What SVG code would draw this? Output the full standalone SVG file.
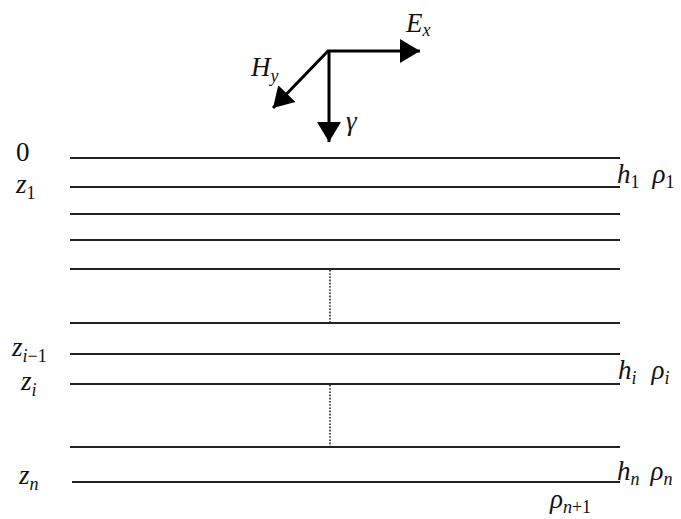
<svg xmlns="http://www.w3.org/2000/svg" width="681" height="519" viewBox="0 0 681 519">
<style>
.l{stroke:#222;stroke-width:2;fill:none}
.d{stroke:#222;stroke-width:1.6;stroke-dasharray:1.6 1.6;fill:none}
.a{stroke:#000;stroke-width:3;fill:none}
</style>
<defs>
<marker id="ah" markerUnits="userSpaceOnUse" markerWidth="26" markerHeight="26" refX="20" refY="13" orient="auto">
<path d="M0,1 L20,13 L0,25 Z" fill="#000"/>
</marker>
</defs>
<rect width="681" height="519" fill="#fff"/>
<g id="connectors">
<line class="l" x1="70" y1="158" x2="620" y2="158"/>
<line class="l" x1="70" y1="187" x2="620" y2="187"/>
<line class="l" x1="70" y1="214" x2="620" y2="214"/>
<line class="l" x1="70" y1="240" x2="620" y2="240"/>
<line class="l" x1="70" y1="269" x2="620" y2="269"/>
<line class="l" x1="70" y1="323" x2="620" y2="323"/>
<line class="l" x1="70" y1="354" x2="620" y2="354"/>
<line class="l" x1="70" y1="384" x2="620" y2="384"/>
<line class="l" x1="70" y1="447" x2="620" y2="447"/>
<line class="l" x1="72" y1="482" x2="620" y2="482"/>
<line class="d" x1="330" y1="270" x2="330" y2="323"/>
<line class="d" x1="330" y1="385" x2="330" y2="446"/>
</g>
<g id="axes" font-family="Liberation Serif, DejaVu Serif, serif" fill="#111">
<line class="a" x1="327" y1="51" x2="420" y2="51" marker-end="url(#ah)"/>
<line class="a" x1="329" y1="51" x2="329" y2="142" marker-end="url(#ah)"/>
<line class="a" x1="328" y1="51" x2="273" y2="108" marker-end="url(#ah)"/>
<text x="406" y="32" font-size="27" font-style="italic">E<tspan font-size="18" dy="4">x</tspan></text>
<text x="251" y="76" font-size="27" font-style="italic">H<tspan font-size="18" dy="6">y</tspan></text>
<text x="346" y="130" font-size="27" font-style="italic">γ</text>
</g>
<g id="left-labels" font-family="Liberation Serif, DejaVu Serif, serif" fill="#111">
<text x="16" y="161" font-size="27">0</text>
<text x="16" y="193" font-size="27" font-style="italic">z<tspan font-size="18" font-style="normal" dy="6">1</tspan></text>
<text x="12" y="356" font-size="27" font-style="italic">z<tspan font-size="18" dy="6">i</tspan><tspan font-size="18" font-style="normal">−1</tspan></text>
<text x="21" y="390" font-size="27" font-style="italic">z<tspan font-size="18" dy="6">i</tspan></text>
<text x="19" y="484" font-size="27" font-style="italic">z<tspan font-size="18" dy="6">n</tspan></text>
</g>
<g id="right-labels" font-family="Liberation Serif, DejaVu Serif, serif" fill="#111">
<text x="617" y="183" font-size="27" font-style="italic">h<tspan font-size="18" font-style="normal" dy="5">1</tspan><tspan dx="13" dy="-5">ρ</tspan><tspan font-size="18" font-style="normal" dy="5">1</tspan></text>
<text x="618" y="379" font-size="27" font-style="italic">h<tspan font-size="18" dy="5">i</tspan><tspan dx="15" dy="-5">ρ</tspan><tspan font-size="18" dy="5">i</tspan></text>
<text x="617" y="480" font-size="27" font-style="italic">h<tspan font-size="18" dy="5">n</tspan><tspan dx="11" dy="-5">ρ</tspan><tspan font-size="18" dy="5">n</tspan></text>
<text x="550" y="508" font-size="27" font-style="italic">ρ<tspan font-size="18" dy="5">n</tspan><tspan font-size="18" font-style="normal">+1</tspan></text>
</g>
</svg>
